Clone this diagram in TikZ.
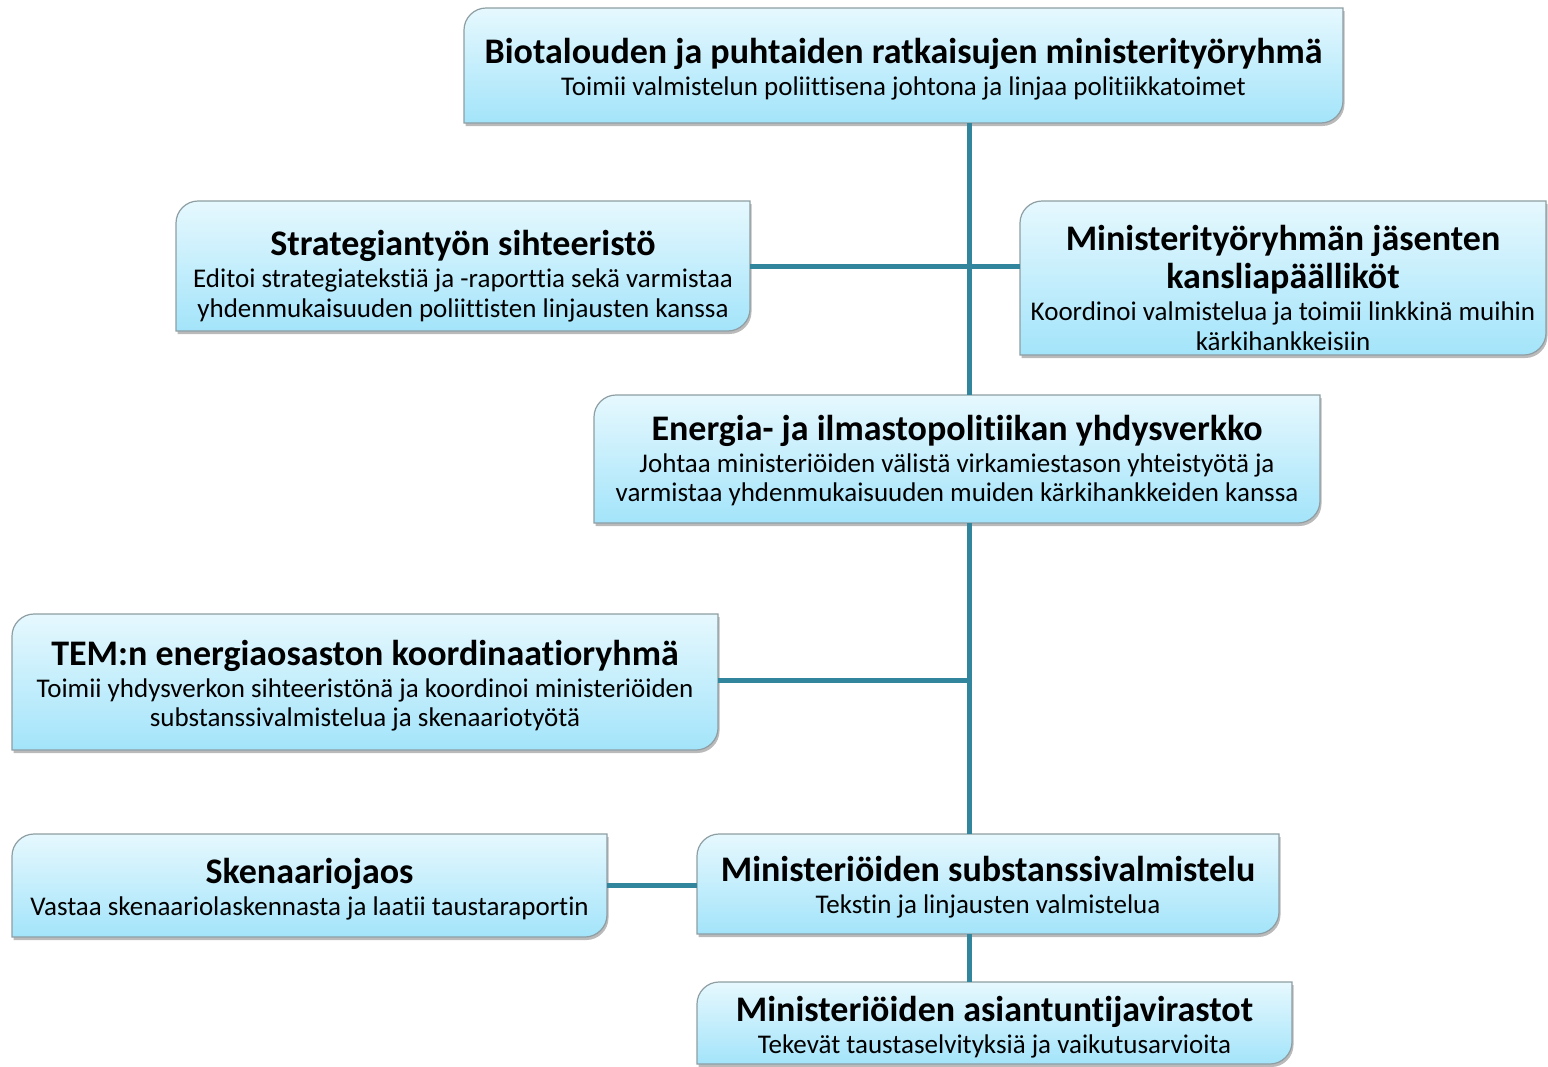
\documentclass[tikz,border=0pt]{standalone}
\usepackage{fontspec}
\setmainfont[Ligatures=NoCommon]{Carlito}
\usetikzlibrary{shadows,calc}
\definecolor{conn}{HTML}{31859C}
\definecolor{boxtop}{HTML}{E6F8FE}
\definecolor{boxbot}{HTML}{A3E4FA}
\definecolor{boxline}{HTML}{8E9EA3}
\tikzset{
  boxshape/.style={draw=boxline, line width=1.2pt, top color=boxtop, bottom color=boxbot,
    drop shadow={shadow xshift=1.5pt, shadow yshift=-3pt, opacity=0.45, fill=black!60}},
  boxarea/.style={inner sep=0pt, draw=none},
  boxtext/.style={inner sep=0pt, align=center, text=black, font=\fontsize{27}{29.5}\selectfont},
  link/.style={draw=conn, line width=5pt},
}
\newcommand\ttl[1]{{\fontsize{36}{38}\selectfont\bfseries #1}}
% name, x1, y1, x2, y2, text shift (down), text
\newcommand\dbox[7]{%
  \path[boxshape] (#2,#3+22) .. controls (#2,#3+10) and (#2+10,#3) .. (#2+22,#3) -- (#4,#3)
    -- (#4,#5-22) .. controls (#4,#5-10) and (#4-10,#5) .. (#4-22,#5) -- (#2,#5) -- cycle;
  \node[boxarea, minimum width={(#4-#2)*1pt}, minimum height={(#5-#3)*1pt}] (#1)
    at ({(#2+#4)/2},{(#3+#5)/2}) {};
  \node[boxtext] (#1-t) at ($(#1.center)+(0,#6)$) {#7};
}
\begin{document}
\begin{tikzpicture}[x=1pt,y=-1pt]
\useasboundingbox (0,0) rectangle (1548,1066);
\coordinate (tx) at (969,0);
\dbox{top}{464}{8}{1343}{123}{4}{\ttl{Biotalouden ja puhtaiden ratkaisujen ministerityöryhmä}\\[2.5pt]
  Toimii valmistelun poliittisena johtona ja linjaa politiikkatoimet}
\dbox{strat}{176}{201}{750}{331}{10}{\ttl{Strategiantyön sihteeristö}\\[2.5pt]
  Editoi strategiatekstiä ja -raporttia sekä varmistaa\\
  yhdenmukaisuuden poliittisten linjausten kanssa}
\dbox{kans}{1020}{201}{1546}{355}{10}{\ttl{Ministerityöryhmän jäsenten}\\[5.5pt]
  \ttl{kansliapäälliköt}\\[2.5pt]
  Koordinoi valmistelua ja toimii linkkinä muihin\\
  kärkihankkeisiin}
\dbox{en}{594}{395}{1320}{523}{1.5}{\ttl{Energia- ja ilmastopolitiikan yhdysverkko}\\[2.5pt]
  Johtaa ministeriöiden välistä virkamiestason yhteistyötä ja\\
  varmistaa yhdenmukaisuuden muiden kärkihankkeiden kanssa}
\dbox{tem}{12}{614}{718}{750}{3.5}{\ttl{TEM:n energiaosaston koordinaatioryhmä}\\[2.5pt]
  Toimii yhdysverkon sihteeristönä ja koordinoi ministeriöiden\\
  substanssivalmistelua ja skenaariotyötä}
\dbox{sken}{12}{834}{607}{937}{3.5}{\ttl{Skenaariojaos}\\[2.5pt]
  Vastaa skenaariolaskennasta ja laatii taustaraportin}
\dbox{subs}{697}{834}{1279}{934}{3}{\ttl{Ministeriöiden substanssivalmistelu}\\[2.5pt]
  Tekstin ja linjausten valmistelua}
\dbox{asi}{697}{982}{1292}{1064}{4.5}{\ttl{Ministeriöiden asiantuntijavirastot}\\[2.5pt]
  Tekevät taustaselvityksiä ja vaikutusarvioita}
\draw[link] (top.south -| tx) -- (en.north -| tx);
\draw[link] (strat.east) -- (kans.west |- strat.east);
\draw[link] (en.south -| tx) -- (subs.north -| tx);
\draw[link] (tem.east) ++(0,-2) coordinate (temc) -- (temc -| tx);
\draw[link] (sken.east) -- (subs.west |- sken.east);
\draw[link] (subs.south -| tx) -- (asi.north -| tx);
\end{tikzpicture}
\end{document}
